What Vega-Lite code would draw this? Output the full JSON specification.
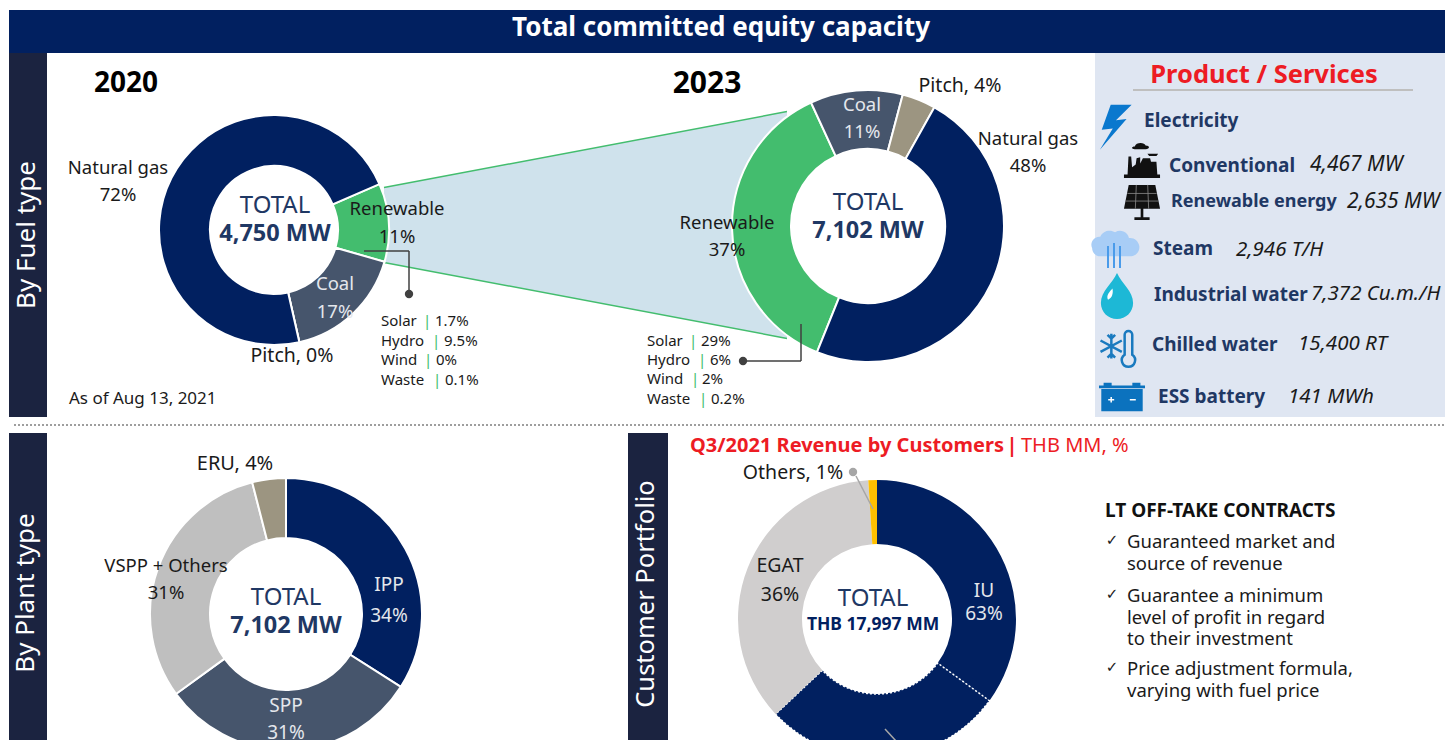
{"$schema":"https://vega.github.io/schema/vega-lite/v6.json","width":1454,"height":740,"padding":0,"autosize":{"type":"none"},"background":"white",
"config":{"view":{"stroke":null},"text":{"font":"Noto Sans","baseline":"middle","align":"center","fontSize":18.5,"color":"#1a1a1a"}},
"datasets":{
"fuel2020":[{"slice":"Renewable","share":11,"rank":1},{"slice":"Coal","share":17,"rank":2},{"slice":"Pitch","share":0,"rank":3},{"slice":"Natural gas","share":72,"rank":4}],
"fuel2023":[{"slice":"Renewable","share":37,"rank":1},{"slice":"Coal","share":11,"rank":2},{"slice":"Pitch","share":4,"rank":3},{"slice":"Natural gas","share":48,"rank":4}],
"plant":[{"slice":"IPP","share":34,"rank":1},{"slice":"SPP","share":31,"rank":2},{"slice":"VSPP + Others","share":31,"rank":3},{"slice":"ERU","share":4,"rank":4}],
"customer":[{"slice":"IU","part":"a","share":35,"rank":1},{"slice":"IU","part":"b","share":28,"rank":2},{"slice":"EGAT","part":"c","share":36,"rank":3},{"slice":"Others","part":"d","share":1,"rank":4}],
"funnel":[{"year":"2020","upper":6.1,"lower":-6.1},{"year":"2023","upper":18.5,"lower":-18.5}]
},
"resolve":{"scale":{"theta":"independent"}},
"layer":[
{"data":{"values":[{"k":"title band"}]},"mark":{"type":"rect","color":"#012060"},"encoding":{"x":{"value":9},"x2":{"value":1445},"y":{"value":10},"y2":{"value":53}}},
{"data":{"values":[{"k":"fuel side"}]},"mark":{"type":"rect","color":"#1B2340"},"encoding":{"x":{"value":9},"x2":{"value":47},"y":{"value":53},"y2":{"value":417}}},
{"data":{"values":[{"k":"plant side"}]},"mark":{"type":"rect","color":"#1B2340"},"encoding":{"x":{"value":9},"x2":{"value":47},"y":{"value":433},"y2":{"value":740}}},
{"data":{"values":[{"k":"customer side"}]},"mark":{"type":"rect","color":"#1B2340"},"encoding":{"x":{"value":628},"x2":{"value":668},"y":{"value":433},"y2":{"value":740}}},
{"data":{"values":[{"k":"product panel"}]},"mark":{"type":"rect","color":"#DFE6F2"},"encoding":{"x":{"value":1095},"x2":{"value":1445},"y":{"value":53},"y2":{"value":417}}},
{"data":{"values":[{"k":"separator"}]},"mark":{"type":"rule","color":"#7F7F7F","strokeWidth":1.5,"strokeDash":[2,2]},"encoding":{"x":{"value":14},"x2":{"value":1445},"y":{"value":425}}},
{"data":{"values":[{"k":"product line"}]},"mark":{"type":"rule","color":"#BFBFBF","strokeWidth":2},"encoding":{"x":{"value":1133},"x2":{"value":1413},"y":{"value":90}}},

{"data":{"name":"funnel"},"mark":{"type":"area","color":"#CFE2EC"},"encoding":{"x":{"field":"year","type":"nominal","scale":{"type":"point","domain":["2020","2023"],"range":[384,787],"padding":0},"axis":null},"y":{"field":"upper","type":"quantitative","scale":{"domain":[-84,36.7],"range":[740,0]},"axis":null},"y2":{"field":"lower"}}},
{"data":{"name":"funnel"},"mark":{"type":"line","color":"#43BD6E","strokeWidth":1.5},"encoding":{"x":{"field":"year","type":"nominal","scale":{"type":"point","domain":["2020","2023"],"range":[384,787],"padding":0},"axis":null},"y":{"field":"upper","type":"quantitative","scale":{"domain":[-84,36.7],"range":[740,0]},"axis":null}}},
{"data":{"name":"funnel"},"mark":{"type":"line","color":"#43BD6E","strokeWidth":1.5},"encoding":{"x":{"field":"year","type":"nominal","scale":{"type":"point","domain":["2020","2023"],"range":[384,787],"padding":0},"axis":null},"y":{"field":"lower","type":"quantitative","scale":{"domain":[-84,36.7],"range":[740,0]},"axis":null}}},

{"data":{"name":"fuel2020"},"mark":{"type":"arc","innerRadius":64,"outerRadius":115,"stroke":"white","strokeWidth":2},"encoding":{"x":{"value":274},"y":{"value":230},"theta":{"field":"share","type":"quantitative","stack":true,"scale":{"domain":[0,100],"range":[1.16,7.443]}},"order":{"field":"rank"},"color":{"field":"slice","type":"nominal","legend":null,"scale":{"domain":["Natural gas","Renewable","Coal","Pitch","IPP","SPP","VSPP + Others","ERU","IU","EGAT","Others"],"range":["#012060","#43BD6E","#46556C","#9C9581","#012060","#46556C","#BFBFBF","#9C9581","#012060","#D0CECE","#FFC000"]}}}},
{"data":{"name":"fuel2023"},"mark":{"type":"arc","innerRadius":77,"outerRadius":136,"stroke":"white","strokeWidth":2},"encoding":{"x":{"value":868},"y":{"value":226},"theta":{"field":"share","type":"quantitative","stack":true,"scale":{"domain":[0,100],"range":[3.526,9.809]}},"order":{"field":"rank"},"color":{"field":"slice","type":"nominal","legend":null}}},
{"data":{"name":"plant"},"mark":{"type":"arc","innerRadius":76,"outerRadius":136,"stroke":"white","strokeWidth":2},"encoding":{"x":{"value":286},"y":{"value":614},"theta":{"field":"share","type":"quantitative","stack":true,"scale":{"domain":[0,100],"range":[0,6.2832]}},"order":{"field":"rank"},"color":{"field":"slice","type":"nominal","legend":null}}},
{"data":{"name":"customer"},"mark":{"type":"arc","innerRadius":75,"outerRadius":139,"strokeDash":[2,2],"strokeWidth":1.5},"encoding":{"x":{"value":877},"y":{"value":619},"theta":{"field":"share","type":"quantitative","stack":true,"scale":{"domain":[0,100],"range":[0,6.2832]}},"order":{"field":"rank"},"color":{"field":"slice","type":"nominal","legend":null},"stroke":{"condition":{"test":"datum.part==='b'","value":"white"},"value":null}}},

{"data":{"values":[{"k":"leader 2020"}]},"mark":{"type":"rule","color":"#404040","strokeWidth":1.5},"encoding":{"x":{"value":364},"x2":{"value":409},"y":{"value":251}}},
{"data":{"values":[{"k":"leader 2020"}]},"mark":{"type":"rule","color":"#404040","strokeWidth":1.5},"encoding":{"x":{"value":409},"y":{"value":251},"y2":{"value":294}}},
{"data":{"values":[{"k":"dot 2020"}]},"mark":{"type":"point","filled":true,"color":"#404040","opacity":1,"size":70},"encoding":{"x":{"value":409},"y":{"value":294}}},
{"data":{"values":[{"k":"leader 2023"}]},"mark":{"type":"rule","color":"#404040","strokeWidth":1.5},"encoding":{"x":{"value":743},"x2":{"value":801},"y":{"value":361}}},
{"data":{"values":[{"k":"leader 2023"}]},"mark":{"type":"rule","color":"#404040","strokeWidth":1.5},"encoding":{"x":{"value":801},"y":{"value":324},"y2":{"value":361}}},
{"data":{"values":[{"k":"dot 2023"}]},"mark":{"type":"point","filled":true,"color":"#404040","opacity":1,"size":70},"encoding":{"x":{"value":743},"y":{"value":361}}},
{"data":{"values":[{"k":"leader others"}]},"mark":{"type":"rule","color":"#A6A6A6","strokeWidth":1.5},"encoding":{"x":{"value":856},"x2":{"value":873},"y":{"value":476},"y2":{"value":509}}},
{"data":{"values":[{"k":"dot others"}]},"mark":{"type":"point","filled":true,"color":"#A6A6A6","opacity":1,"size":70},"encoding":{"x":{"value":853},"y":{"value":472}}},
{"data":{"values":[{"k":"leader bottom"}]},"mark":{"type":"rule","color":"#A6A6A6","strokeWidth":1.5},"encoding":{"x":{"value":885},"x2":{"value":896},"y":{"value":729},"y2":{"value":741}}},

{"data":{"values":[{"k":"bolt"}]},"mark":{"type":"point","filled":true,"opacity":1,"color":"#0A78CE","size":2116,"shape":"M.68,-.97 L-.23,-.97 L-.62,.12 L-.14,.07 L-.7,.99 L.46,-.35 L0,-.29 Z"},"encoding":{"x":{"value":1116},"y":{"value":127}}},
{"data":{"values":[{"k":"factory"}]},"mark":{"type":"point","filled":true,"opacity":1,"color":"#111111","size":1300,"shape":"M-1,1 L-1,.8 L-.8,.8 L-.75,-.2 L-.6,-.2 L-.55,.4 L-.35,.25 L-.3,-.1 L-.1,-.15 L-.1,.2 L.05,-.1 L.2,-.1 L.2,-.1 L.45,-.1 L.5,.1 L.8,.1 L.85,.8 L1,.8 L1,1 Z M-.4,-.75 C-.35,-1 .15,-1 .2,-.8 C.45,-.8 .45,-.6 .2,-.6 L-.4,-.6 C-.6,-.6 -.6,-.75 -.4,-.75 Z M.3,-.35 L.9,-.35 L.8,-.22 L.4,-.22 Z"},"encoding":{"x":{"value":1142},"y":{"value":160}}},
{"data":{"values":[{"k":"solar panel"}]},"mark":{"type":"point","filled":true,"opacity":1,"color":"#111111","size":1444,"shape":"M-.7,-.9 L.7,-.9 L.95,.35 L-.95,.35 Z M-.07,.35 L.07,.35 L.07,.8 L.4,.8 L.4,.95 L-.4,.95 L-.4,.8 L-.07,.8 Z"},"encoding":{"x":{"value":1142},"y":{"value":202}}},
{"data":{"values":[{"k":"solar grid"}]},"mark":{"type":"point","filled":false,"opacity":1,"color":"#8a8a8a","strokeWidth":0.8,"size":1444,"shape":"M-.77,-.45 L.77,-.45 M-.86,-.05 L.86,-.05 M-.3,-.9 L-.35,.35 M.3,-.9 L.35,.35"},"encoding":{"x":{"value":1142},"y":{"value":202}}},
{"data":{"values":[{"k":"cloud"}]},"mark":{"type":"point","filled":true,"opacity":1,"color":"#A8CDF6","size":2116,"shape":"M-.95,.1 A.35,.35 0 0 1 -.6,-.4 A.45,.45 0 0 1 .05,-.6 A.4,.4 0 0 1 .65,-.35 A.38,.38 0 0 1 .75,.45 L-.6,.45 A.35,.35 0 0 1 -.95,.1 Z"},"encoding":{"x":{"value":1114},"y":{"value":246}}},
{"data":{"values":[{"k":"steam"}]},"mark":{"type":"point","filled":false,"opacity":1,"color":"#4A9BEA","strokeWidth":2,"size":1600,"shape":"M-.3,-.2 L-.3,.9 M0,-.35 L0,.9 M.3,-.2 L.3,.9"},"encoding":{"x":{"value":1114},"y":{"value":250}}},
{"data":{"values":[{"k":"drop"}]},"mark":{"type":"point","filled":true,"opacity":1,"color":"#1DB8D6","size":2116,"shape":"M0,-1 C.2,-.55 .7,-.2 .7,.3 A.7,.7 0 1 1 -.7,.3 C-.7,-.2 -.2,-.55 0,-1 Z"},"encoding":{"x":{"value":1117},"y":{"value":296}}},
{"data":{"values":[{"k":"drop light"}]},"mark":{"type":"point","filled":true,"opacity":1,"color":"#FFFFFF","size":900,"shape":"M.1,-.5 C.15,-.2 .1,.1 -.2,.25 C-.35,0 -.1,-.3 .1,-.5 Z"},"encoding":{"x":{"value":1111},"y":{"value":296}}},
{"data":{"values":[{"k":"flake"}]},"mark":{"type":"point","filled":false,"opacity":1,"color":"#1A7ABF","strokeWidth":2.5,"size":1444,"shape":"M-.35,-.85 L-.35,.45 M-.92,-.5 L.2,.1 M-.92,.1 L.2,-.5 M-.55,-.8 L-.35,-.6 L-.15,-.8 M-.55,.4 L-.35,.2 L-.15,.4 M.35,.25 L.35,-.8 A.2,.2 0 0 1 .75,-.8 L.75,.25 A.35,.35 0 1 1 .35,.25 Z"},"encoding":{"x":{"value":1118},"y":{"value":350}}},
{"data":{"values":[{"k":"battery"}]},"mark":{"type":"point","filled":true,"opacity":1,"color":"#0B72BE","size":2116,"shape":"M-.9,-.35 L.9,-.35 L.9,.62 L-.9,.62 Z M-1,-.5 L1,-.5 L1,-.38 L-1,-.38 Z M-.8,-.62 L-.45,-.62 L-.45,-.5 L-.8,-.5 Z M.45,-.62 L.8,-.62 L.8,-.5 L.45,-.5 Z"},"encoding":{"x":{"value":1122},"y":{"value":397}}},
{"data":{"values":[{"k":"battery signs"}]},"mark":{"type":"point","filled":false,"opacity":1,"color":"#FFFFFF","strokeWidth":1.5,"size":2116,"shape":"M-.6,.12 L-.34,.12 M-.47,0 L-.47,.24 M.34,.12 L.6,.12"},"encoding":{"x":{"value":1122},"y":{"value":397}}},

{"data":{"values":[{"t":"Total committed equity capacity"}]},"mark":{"type":"text","x":721,"y":28,"fontSize":26,"fontWeight":"bold","color":"#FFFFFF"},"encoding":{"text":{"field":"t"}}},
{"data":{"values":[{"t":"By Fuel type"}]},"mark":{"type":"text","x":27,"y":235,"angle":270,"fontSize":26,"color":"#FFFFFF"},"encoding":{"text":{"field":"t"}}},
{"data":{"values":[{"t":"By Plant type"}]},"mark":{"type":"text","x":26,"y":593,"angle":270,"fontSize":26,"color":"#FFFFFF"},"encoding":{"text":{"field":"t"}}},
{"data":{"values":[{"t":"Customer Portfolio"}]},"mark":{"type":"text","x":646,"y":594,"angle":270,"fontSize":25.5,"color":"#FFFFFF"},"encoding":{"text":{"field":"t"}}},
{"data":{"values":[{"t":"2020"}]},"mark":{"type":"text","x":126,"y":84,"fontSize":28,"fontWeight":"bold","color":"#000000"},"encoding":{"text":{"field":"t"}}},
{"data":{"values":[{"t":"2023"}]},"mark":{"type":"text","x":707,"y":84,"fontSize":30,"fontWeight":"bold","color":"#000000"},"encoding":{"text":{"field":"t"}}},
{"data":{"values":[{"t":"As of Aug 13, 2021"}]},"mark":{"type":"text","x":69,"y":399,"align":"left","fontSize":17},"encoding":{"text":{"field":"t"}}},

{"data":{"values":[{"t":"Natural gas"}]},"mark":{"type":"text","x":118,"y":168},"encoding":{"text":{"field":"t"}}},
{"data":{"values":[{"t":"72%"}]},"mark":{"type":"text","x":118,"y":195},"encoding":{"text":{"field":"t"}}},
{"data":{"values":[{"t":"Renewable"}]},"mark":{"type":"text","x":397,"y":209},"encoding":{"text":{"field":"t"}}},
{"data":{"values":[{"t":"11%"}]},"mark":{"type":"text","x":397,"y":237},"encoding":{"text":{"field":"t"}}},
{"data":{"values":[{"t":"Coal"}]},"mark":{"type":"text","x":335,"y":284,"color":"#E4E7EC"},"encoding":{"text":{"field":"t"}}},
{"data":{"values":[{"t":"17%"}]},"mark":{"type":"text","x":335,"y":312,"color":"#E4E7EC"},"encoding":{"text":{"field":"t"}}},
{"data":{"values":[{"t":"Pitch, 0%"}]},"mark":{"type":"text","x":292,"y":356,"fontSize":19.5},"encoding":{"text":{"field":"t"}}},
{"data":{"values":[{"t":"TOTAL"}]},"mark":{"type":"text","x":275,"y":206,"fontSize":24,"color":"#1F3864"},"encoding":{"text":{"field":"t"}}},
{"data":{"values":[{"t":"4,750 MW"}]},"mark":{"type":"text","x":275,"y":234,"fontSize":23.5,"fontWeight":"bold","color":"#1F3864"},"encoding":{"text":{"field":"t"}}},

{"data":{"values":[{"t":"Renewable"}]},"mark":{"type":"text","x":727,"y":223},"encoding":{"text":{"field":"t"}}},
{"data":{"values":[{"t":"37%"}]},"mark":{"type":"text","x":727,"y":250},"encoding":{"text":{"field":"t"}}},
{"data":{"values":[{"t":"Coal"}]},"mark":{"type":"text","x":862,"y":105,"color":"#E4E7EC"},"encoding":{"text":{"field":"t"}}},
{"data":{"values":[{"t":"11%"}]},"mark":{"type":"text","x":862,"y":132,"color":"#E4E7EC"},"encoding":{"text":{"field":"t"}}},
{"data":{"values":[{"t":"Pitch, 4%"}]},"mark":{"type":"text","x":960,"y":86,"fontSize":19.5},"encoding":{"text":{"field":"t"}}},
{"data":{"values":[{"t":"Natural gas"}]},"mark":{"type":"text","x":1028,"y":139},"encoding":{"text":{"field":"t"}}},
{"data":{"values":[{"t":"48%"}]},"mark":{"type":"text","x":1028,"y":166},"encoding":{"text":{"field":"t"}}},
{"data":{"values":[{"t":"TOTAL"}]},"mark":{"type":"text","x":868,"y":203,"fontSize":24,"color":"#1F3864"},"encoding":{"text":{"field":"t"}}},
{"data":{"values":[{"t":"7,102 MW"}]},"mark":{"type":"text","x":868,"y":231,"fontSize":23.5,"fontWeight":"bold","color":"#1F3864"},"encoding":{"text":{"field":"t"}}},

{"data":{"values":[{"t":"Solar"}]},"mark":{"type":"text","x":381,"y":321,"align":"left","fontSize":15},"encoding":{"text":{"field":"t"}}},
{"data":{"values":[{"t":"Hydro"}]},"mark":{"type":"text","x":381,"y":341,"align":"left","fontSize":15},"encoding":{"text":{"field":"t"}}},
{"data":{"values":[{"t":"Wind"}]},"mark":{"type":"text","x":381,"y":360,"align":"left","fontSize":15},"encoding":{"text":{"field":"t"}}},
{"data":{"values":[{"t":"Waste"}]},"mark":{"type":"text","x":381,"y":380,"align":"left","fontSize":15},"encoding":{"text":{"field":"t"}}},
{"data":{"values":[{"t":"Solar"}]},"mark":{"type":"text","x":647,"y":341,"align":"left","fontSize":15},"encoding":{"text":{"field":"t"}}},
{"data":{"values":[{"t":"Hydro"}]},"mark":{"type":"text","x":647,"y":360,"align":"left","fontSize":15},"encoding":{"text":{"field":"t"}}},
{"data":{"values":[{"t":"Wind"}]},"mark":{"type":"text","x":647,"y":379,"align":"left","fontSize":15},"encoding":{"text":{"field":"t"}}},
{"data":{"values":[{"t":"Waste"}]},"mark":{"type":"text","x":647,"y":399,"align":"left","fontSize":15},"encoding":{"text":{"field":"t"}}},
{"data":{"values":[{"t":"|"}]},"mark":{"type":"text","x":427,"y":321,"fontSize":15,"color":"#43BD6E"},"encoding":{"text":{"field":"t"}}},
{"data":{"values":[{"t":"|"}]},"mark":{"type":"text","x":436,"y":341,"fontSize":15,"color":"#43BD6E"},"encoding":{"text":{"field":"t"}}},
{"data":{"values":[{"t":"|"}]},"mark":{"type":"text","x":428,"y":360,"fontSize":15,"color":"#43BD6E"},"encoding":{"text":{"field":"t"}}},
{"data":{"values":[{"t":"|"}]},"mark":{"type":"text","x":437,"y":380,"fontSize":15,"color":"#43BD6E"},"encoding":{"text":{"field":"t"}}},
{"data":{"values":[{"t":"1.7%"}]},"mark":{"type":"text","x":435,"y":321,"align":"left","fontSize":15},"encoding":{"text":{"field":"t"}}},
{"data":{"values":[{"t":"9.5%"}]},"mark":{"type":"text","x":444,"y":341,"align":"left","fontSize":15},"encoding":{"text":{"field":"t"}}},
{"data":{"values":[{"t":"0%"}]},"mark":{"type":"text","x":436,"y":360,"align":"left","fontSize":15},"encoding":{"text":{"field":"t"}}},
{"data":{"values":[{"t":"0.1%"}]},"mark":{"type":"text","x":445,"y":380,"align":"left","fontSize":15},"encoding":{"text":{"field":"t"}}},
{"data":{"values":[{"t":"|"}]},"mark":{"type":"text","x":693,"y":341,"fontSize":15,"color":"#43BD6E"},"encoding":{"text":{"field":"t"}}},
{"data":{"values":[{"t":"|"}]},"mark":{"type":"text","x":702,"y":360,"fontSize":15,"color":"#43BD6E"},"encoding":{"text":{"field":"t"}}},
{"data":{"values":[{"t":"|"}]},"mark":{"type":"text","x":695,"y":379,"fontSize":15,"color":"#43BD6E"},"encoding":{"text":{"field":"t"}}},
{"data":{"values":[{"t":"|"}]},"mark":{"type":"text","x":703,"y":399,"fontSize":15,"color":"#43BD6E"},"encoding":{"text":{"field":"t"}}},
{"data":{"values":[{"t":"29%"}]},"mark":{"type":"text","x":701,"y":341,"align":"left","fontSize":15},"encoding":{"text":{"field":"t"}}},
{"data":{"values":[{"t":"6%"}]},"mark":{"type":"text","x":710,"y":360,"align":"left","fontSize":15},"encoding":{"text":{"field":"t"}}},
{"data":{"values":[{"t":"2%"}]},"mark":{"type":"text","x":702,"y":379,"align":"left","fontSize":15},"encoding":{"text":{"field":"t"}}},
{"data":{"values":[{"t":"0.2%"}]},"mark":{"type":"text","x":711,"y":399,"align":"left","fontSize":15},"encoding":{"text":{"field":"t"}}},

{"data":{"values":[{"t":"Product / Services"}]},"mark":{"type":"text","x":1264,"y":75,"fontSize":25.5,"fontWeight":"bold","color":"#ED1C24"},"encoding":{"text":{"field":"t"}}},
{"data":{"values":[{"t":"Electricity"}]},"mark":{"type":"text","x":1144,"y":121,"align":"left","fontSize":19,"fontWeight":"bold","color":"#1F3864"},"encoding":{"text":{"field":"t"}}},
{"data":{"values":[{"t":"Conventional"}]},"mark":{"type":"text","x":1169,"y":166,"align":"left","fontSize":19,"fontWeight":"bold","color":"#1F3864"},"encoding":{"text":{"field":"t"}}},
{"data":{"values":[{"t":"4,467 MW"}]},"mark":{"type":"text","x":1310,"y":165,"align":"left","fontSize":21,"fontStyle":"italic"},"encoding":{"text":{"field":"t"}}},
{"data":{"values":[{"t":"Renewable energy"}]},"mark":{"type":"text","x":1171,"y":202,"align":"left","fontSize":18,"fontWeight":"bold","color":"#1F3864"},"encoding":{"text":{"field":"t"}}},
{"data":{"values":[{"t":"2,635 MW"}]},"mark":{"type":"text","x":1347,"y":202,"align":"left","fontSize":21,"fontStyle":"italic"},"encoding":{"text":{"field":"t"}}},
{"data":{"values":[{"t":"Steam"}]},"mark":{"type":"text","x":1153,"y":249,"align":"left","fontSize":19,"fontWeight":"bold","color":"#1F3864"},"encoding":{"text":{"field":"t"}}},
{"data":{"values":[{"t":"2,946 T/H"}]},"mark":{"type":"text","x":1236,"y":250,"align":"left","fontSize":20.5,"fontStyle":"italic"},"encoding":{"text":{"field":"t"}}},
{"data":{"values":[{"t":"Industrial water"}]},"mark":{"type":"text","x":1154,"y":295,"align":"left","fontSize":19,"fontWeight":"bold","color":"#1F3864"},"encoding":{"text":{"field":"t"}}},
{"data":{"values":[{"t":"7,372 Cu.m./H"}]},"mark":{"type":"text","x":1311,"y":294,"align":"left","fontSize":20.5,"fontStyle":"italic"},"encoding":{"text":{"field":"t"}}},
{"data":{"values":[{"t":"Chilled water"}]},"mark":{"type":"text","x":1152,"y":345,"align":"left","fontSize":19,"fontWeight":"bold","color":"#1F3864"},"encoding":{"text":{"field":"t"}}},
{"data":{"values":[{"t":"15,400 RT"}]},"mark":{"type":"text","x":1298,"y":344,"align":"left","fontSize":20.5,"fontStyle":"italic"},"encoding":{"text":{"field":"t"}}},
{"data":{"values":[{"t":"ESS battery"}]},"mark":{"type":"text","x":1158,"y":397,"align":"left","fontSize":19,"fontWeight":"bold","color":"#1F3864"},"encoding":{"text":{"field":"t"}}},
{"data":{"values":[{"t":"141 MWh"}]},"mark":{"type":"text","x":1288,"y":397,"align":"left","fontSize":20.5,"fontStyle":"italic"},"encoding":{"text":{"field":"t"}}},

{"data":{"values":[{"t":"ERU, 4%"}]},"mark":{"type":"text","x":235,"y":464,"fontSize":20},"encoding":{"text":{"field":"t"}}},
{"data":{"values":[{"t":"VSPP + Others"}]},"mark":{"type":"text","x":166,"y":566},"encoding":{"text":{"field":"t"}}},
{"data":{"values":[{"t":"31%"}]},"mark":{"type":"text","x":166,"y":593},"encoding":{"text":{"field":"t"}}},
{"data":{"values":[{"t":"IPP"}]},"mark":{"type":"text","x":389,"y":585,"color":"#E4E7EC","fontSize":19},"encoding":{"text":{"field":"t"}}},
{"data":{"values":[{"t":"34%"}]},"mark":{"type":"text","x":389,"y":616,"color":"#E4E7EC","fontSize":19},"encoding":{"text":{"field":"t"}}},
{"data":{"values":[{"t":"SPP"}]},"mark":{"type":"text","x":286,"y":706,"color":"#E4E7EC","fontSize":19},"encoding":{"text":{"field":"t"}}},
{"data":{"values":[{"t":"31%"}]},"mark":{"type":"text","x":286,"y":733,"color":"#E4E7EC","fontSize":19},"encoding":{"text":{"field":"t"}}},
{"data":{"values":[{"t":"TOTAL"}]},"mark":{"type":"text","x":286,"y":598,"fontSize":24,"color":"#1F3864"},"encoding":{"text":{"field":"t"}}},
{"data":{"values":[{"t":"7,102 MW"}]},"mark":{"type":"text","x":286,"y":626,"fontSize":23.5,"fontWeight":"bold","color":"#1F3864"},"encoding":{"text":{"field":"t"}}},

{"data":{"values":[{"t":"Q3/2021 Revenue by Customers"}]},"mark":{"type":"text","x":690,"y":446,"align":"left","fontSize":20,"fontWeight":"bold","color":"#ED1C24"},"encoding":{"text":{"field":"t"}}},
{"data":{"values":[{"t":"|"}]},"mark":{"type":"text","x":1012,"y":446,"fontSize":20,"fontWeight":"bold","color":"#ED1C24"},"encoding":{"text":{"field":"t"}}},
{"data":{"values":[{"t":"THB MM, %"}]},"mark":{"type":"text","x":1021,"y":446,"align":"left","fontSize":20,"color":"#ED1C24"},"encoding":{"text":{"field":"t"}}},
{"data":{"values":[{"t":"Others, 1%"}]},"mark":{"type":"text","x":793,"y":473,"fontSize":19.5},"encoding":{"text":{"field":"t"}}},
{"data":{"values":[{"t":"EGAT"}]},"mark":{"type":"text","x":780,"y":566,"fontSize":19.5},"encoding":{"text":{"field":"t"}}},
{"data":{"values":[{"t":"36%"}]},"mark":{"type":"text","x":780,"y":595,"fontSize":19.5},"encoding":{"text":{"field":"t"}}},
{"data":{"values":[{"t":"IU"}]},"mark":{"type":"text","x":984,"y":591,"color":"#E4E7EC","fontSize":19},"encoding":{"text":{"field":"t"}}},
{"data":{"values":[{"t":"63%"}]},"mark":{"type":"text","x":984,"y":614,"color":"#E4E7EC","fontSize":19},"encoding":{"text":{"field":"t"}}},
{"data":{"values":[{"t":"TOTAL"}]},"mark":{"type":"text","x":873,"y":599,"fontSize":24,"color":"#1F3864"},"encoding":{"text":{"field":"t"}}},
{"data":{"values":[{"t":"THB 17,997 MM"}]},"mark":{"type":"text","x":873,"y":625,"fontSize":17.5,"fontWeight":"bold","color":"#012060"},"encoding":{"text":{"field":"t"}}},

{"data":{"values":[{"t":"LT OFF-TAKE CONTRACTS"}]},"mark":{"type":"text","x":1105,"y":511,"align":"left","fontSize":19,"fontWeight":"bold","color":"#111111"},"encoding":{"text":{"field":"t"}}},
{"data":{"values":[{"t":"✓"}]},"mark":{"type":"text","x":1112,"y":540,"fontSize":15,"font":"DejaVu Sans"},"encoding":{"text":{"field":"t"}}},
{"data":{"values":[{"t":"✓"}]},"mark":{"type":"text","x":1112,"y":594,"fontSize":15,"font":"DejaVu Sans"},"encoding":{"text":{"field":"t"}}},
{"data":{"values":[{"t":"✓"}]},"mark":{"type":"text","x":1112,"y":667,"fontSize":15,"font":"DejaVu Sans"},"encoding":{"text":{"field":"t"}}},
{"data":{"values":[{"t":"Guaranteed market and\nsource of revenue"}]},"mark":{"type":"text","x":1127,"y":542,"align":"left","fontSize":18.5,"lineBreak":"\n","lineHeight":22},"encoding":{"text":{"field":"t"}}},
{"data":{"values":[{"t":"Guarantee a minimum\nlevel of profit in regard\nto their investment"}]},"mark":{"type":"text","x":1127,"y":596,"align":"left","fontSize":18.5,"lineBreak":"\n","lineHeight":21.5},"encoding":{"text":{"field":"t"}}},
{"data":{"values":[{"t":"Price adjustment formula,\nvarying with fuel price"}]},"mark":{"type":"text","x":1127,"y":669,"align":"left","fontSize":18.5,"lineBreak":"\n","lineHeight":22},"encoding":{"text":{"field":"t"}}}
]}
